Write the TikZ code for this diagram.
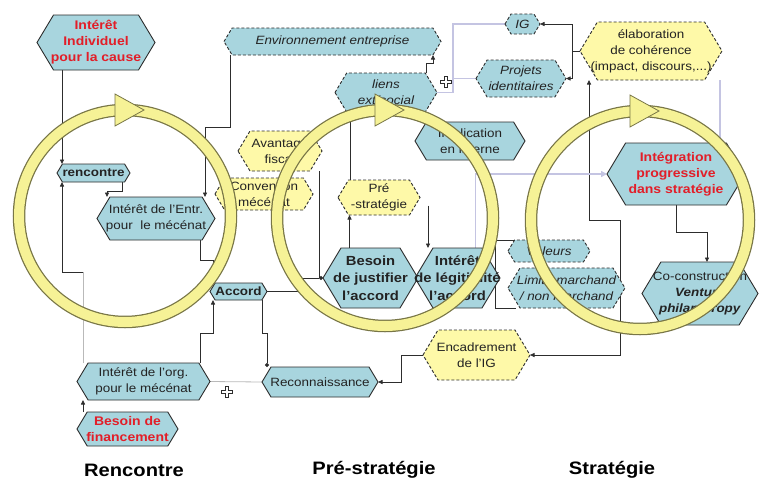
\documentclass[tikz,border=0pt]{standalone}
\usepackage{fontspec}
\setmainfont[FakeStretch=1.12]{Liberation Sans}
\usetikzlibrary{arrows.meta}
\definecolor{nodeblue}{RGB}{168,213,222}
\definecolor{nodeyellow}{RGB}{254,249,168}
\definecolor{ringyellow}{RGB}{246,242,150}
\definecolor{ringedge}{RGB}{120,118,70}
\definecolor{lineblack}{RGB}{45,45,45}
\definecolor{txtdark}{RGB}{35,35,35}
\definecolor{lav}{RGB}{196,196,226}
\definecolor{redtxt}{RGB}{226,30,40}
\definecolor{grayl}{RGB}{185,185,185}
\pgfdeclarelayer{back}
\pgfdeclarelayer{bg}
\pgfsetlayers{back,bg,main}
\newcommand{\hexn}[8]{%
  \path[#6] ({#2-#4},{#3}) -- ({#2-#4+0.6*#5},{#3-#5}) -- ({#2+#4-0.6*#5},{#3-#5}) -- ({#2+#4},{#3}) -- ({#2+#4-0.6*#5},{#3+#5}) -- ({#2-#4+0.6*#5},{#3+#5}) -- cycle;
  \node[txt,#7,minimum width={2*#4},minimum height={2*#5}] (#1) at (#2,#3) {#8};}
\newcommand{\mkring}[3]{%
  \draw[ringedge,line width=12.5pt] (#1,#2) circle[radius=#3];
  \draw[ringyellow,line width=10pt] (#1,#2) circle[radius=#3];
  \filldraw[fill=ringyellow,draw=ringedge,line width=0.8pt] ({#1-10},{#2-#3-16}) -- ({#1+19},{#2-#3}) -- ({#1-10},{#2-#3+16}) -- cycle;}
\newcommand{\plussym}[2]{%
  \filldraw[fill=white,draw=lineblack,line width=0.7pt,shift={(#1,#2)}] (-1.8,-5.5) -- (1.8,-5.5) -- (1.8,-1.8) -- (5.5,-1.8) -- (5.5,1.8) -- (1.8,1.8) -- (1.8,5.5) -- (-1.8,5.5) -- (-1.8,1.8) -- (-5.5,1.8) -- (-5.5,-1.8) -- (-1.8,-1.8) -- cycle;}
\begin{document}
\begin{tikzpicture}[x=1pt,y=-1pt,
  txt/.style={inner sep=0pt,outer sep=0pt,align=center,text=txtdark,font={\fontsize{12}{16}\selectfont}},
  itx/.style={font={\fontsize{12}{16}\selectfont\itshape}},
  boldx/.style={font={\fontsize{12}{16}\selectfont\bfseries}},
  bigb/.style={font={\fontsize{13.2}{17.5}\selectfont\bfseries}},
  redb/.style={text=redtxt,font={\fontsize{12.5}{16}\selectfont\bfseries}},
  hb/.style={fill=nodeblue,draw=lineblack,line width=0.9pt},
  hbd/.style={fill=nodeblue,draw=lineblack,line width=0.9pt,dash pattern=on 3pt off 2pt},
  hyd/.style={fill=nodeyellow,draw=lineblack,line width=0.9pt,dash pattern=on 3pt off 2pt},
  conn/.style={draw=lineblack,line width=0.8pt},
  arr/.style={conn,-{Triangle[length=4.5pt,width=4pt]}},
  dotend/.style={conn,-{Circle[length=4pt]}},
  lavline/.style={draw=lav,line width=1.4pt},
  lavarr/.style={lavline,-{Triangle[length=6pt,width=6pt]}},
  grayline/.style={draw=grayl,line width=0.8pt},
  title/.style={inner sep=0pt,text=black,font={\fontsize{18}{20}\selectfont\bfseries}}]
\begin{pgfonlayer}{back}
\fill[white] (0,0) rectangle (760,485);
\end{pgfonlayer}
\useasboundingbox (0,0) rectangle (760,485);

% nodes
\hexn{indiv}{96}{42.5}{59}{27.5}{hb}{redb}{Intérêt\\Individuel\\pour la cause}
\hexn{env}{332.5}{41.5}{108.5}{13.5}{hbd}{itx}{Environnement entreprise}
\hexn{ig}{522.5}{24}{17.5}{10}{hbd}{itx}{IG}
\hexn{projets}{521}{78.5}{45}{18.5}{hbd}{itx}{Projets\\identitaires}
\hexn{elab}{651}{51}{71}{29}{hyd}{}{élaboration\\de cohérence\\(impact, discours,...)}
\hexn{liens}{386}{92.5}{51}{19.5}{hbd}{itx}{liens\\ext/social}
\hexn{impl}{470}{141}{55}{19}{hb}{}{Implication\\en interne}
\hexn{avantage}{280}{151}{42}{20}{hyd}{}{Avantage\\fiscal}
\hexn{conv}{264}{194}{49}{16}{hyd}{}{Convention\\mécénat}
\hexn{prestrat}{379}{197.5}{41}{17.5}{hyd}{}{Pré\\-stratégie}
\hexn{rencontre}{93.5}{173}{36.5}{9}{hb}{boldx}{rencontre}
\hexn{entr}{156}{218.5}{59}{21.5}{hb}{}{Intérêt de l’Entr.\\pour~ le mécénat}
\hexn{accord}{238.5}{291.5}{28.5}{8.5}{hb}{boldx}{Accord}
\hexn{besoinj}{370.5}{278}{47.5}{30}{hb}{bigb}{Besoin\\de justifier\\l’accord}
\hexn{interetl}{457.5}{278}{42.5}{30}{hb}{bigb}{Intérêt\\de légitimité\\l’accord}
\hexn{valeurs}{549}{251}{41}{11}{hbd}{itx}{Valeurs}
\hexn{limite}{566.5}{288}{58.5}{20}{hbd}{itx}{Limite marchand\\/ non marchand}
\hexn{integ}{676}{174}{69}{31}{hb}{redb}{Intégration\\progressive\\dans stratégie}
\hexn{cocons}{700}{293.5}{58}{31.5}{hb}{}{Co-construction\\\textbf{\textit{Venture}}\\\textbf{\textit{philanthropy}}}
\hexn{encad}{476.5}{355}{53.5}{25}{hyd}{}{Encadrement\\de l’IG}
\hexn{recon}{320}{382}{58}{15}{hb}{}{Reconnaissance}
\hexn{org}{143.5}{381.5}{66.5}{18.5}{hb}{}{Intérêt de l’org.\\pour le mécénat}
\hexn{financ}{127.5}{429}{50.5}{17}{hb}{redb}{Besoin de\\financement}

% connectors
\begin{pgfonlayer}{bg}
\coordinate (r1) at ([xshift=5]rencontre.north west);
\draw[arr] (indiv.south -| r1) -- (r1);
\coordinate (rc1) at ([xshift=-8]rencontre.south east);
\coordinate (e1) at ([xshift=10]entr.north west);
\draw[arr] (rc1) -- ++(0,9) -| (e1);
\coordinate (e2) at ([xshift=-10]entr.north east);
\draw[arr] ([xshift=6]env.south west) -- ++(0,72) -| (e2);
\coordinate (r2) at ([xshift=5]rencontre.south west);
\coordinate (o1) at ([xshift=6]org.north west);
\draw[grayline] (o1) -- ++(0,-91) coordinate (o2);
\draw[arr] (o2) -| (r2);
\coordinate (a1) at ([xshift=3]accord.north west);
\draw[arr] ([xshift=-15]entr.south east) -- ++(0,20) -| (a1);
\coordinate (a2) at ([xshift=3]accord.south west);
\draw[arr] ([xshift=-10]org.north east) -- ++(0,-30) -| (a2);
\draw[dotend] (accord.east) -- ++(30,0) |- (besoinj.west);
\coordinate (av1) at ([xshift=-3]avantage.south east);
\draw[conn] (av1) -- (av1 |- besoinj.west) -- ([xshift=-4]besoinj.west);
\coordinate (bj1) at ([xshift=-21]besoinj.north);
\draw[arr] (bj1) -- (bj1 |- prestrat.south);
\coordinate (l1) at ([xshift=-36]liens.south);
\draw[conn] (l1) -- (l1 |- prestrat.north);
\coordinate (p1) at ([xshift=8,yshift=-8]prestrat.east);
\draw[arr] (p1) -- (p1 |- interetl.north);
\draw[arr] ([xshift=-11]liens.north east) -- ++(0,-10) -| ([xshift=-8]env.south east);
\coordinate (lv) at ([xshift=16]liens.east);
\draw[lavline] (ig.west) -| (lv) -- (liens.east);
\draw[lavline] (lv |- projets.west) -- (projets.west);
\coordinate (el1) at ([xshift=-8]elab.west);
\draw[conn] (elab.west) -- (el1);
\draw[arr] (el1) |- (ig.east);
\draw[arr] (el1) |- (projets.east);
\coordinate (j2) at (620,220);
\draw[arr] (j2) -| ([xshift=-62]elab.south);
\draw[arr] (j2) |- (encad.east);
\draw[lavarr] ([xshift=18]interetl.north) |- (integ.west);
\draw[conn] ([xshift=6]valeurs.north west) -- ++(-19,0) |- ([xshift=8]limite.south west);
\coordinate (ig2) at ([xshift=-25]integ.north east);
\draw[lavline] (ig2) -- (ig2 |- elab.south);
\draw[arr] (integ.south) -- ++(0,27) -| ([xshift=7]cocons.north);
\draw[arr] (encad.west) -- ++(-22,0) |- (recon.east);
\draw[dotend] ([xshift=-5]accord.south east) -- ++(0,33) -| ([xshift=-53]recon.north);
\draw[grayline] (recon.west) -- (org.east);
\draw[arr] ([xshift=6]financ.north west) -- ([xshift=6]org.south west);
\end{pgfonlayer}

% rings
\mkring{125}{216}{106}
\mkring{385}{218}{108}
\mkring{640}{220}{109}

\plussym{446}{82}
\plussym{227}{392}

\node[title] (t1) at (134,470) {Rencontre};
\node[title] (t2) at (374,470) {Pré-stratégie};
\node[title] (t3) at (612,470) {Stratégie};
\end{tikzpicture}
\end{document}
